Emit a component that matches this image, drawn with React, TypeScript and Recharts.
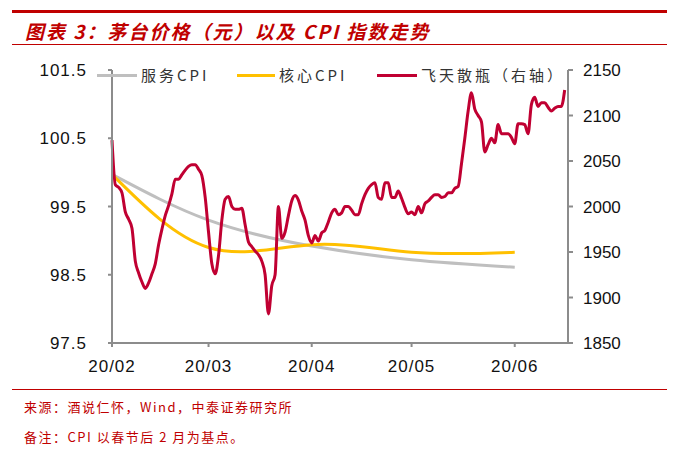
import { LineChart, Line, XAxis, YAxis } from "recharts";

// x axis: days counted from 2020-02-01
const monthTicks = [0, 29, 60, 90, 121];
const monthLabels = ["20/02", "20/03", "20/04", "20/05", "20/06"];

// CPI (left axis), monthly points
const cpiDays = [0, 29, 60, 90, 121];
const serviceCpi = [99.97, 99.3, 98.92, 98.72, 98.61];
const coreCpi = [99.97, 98.9, 98.94, 98.83, 98.83];

// 飞天散瓶 price (right axis), one value per day from 02-01
const feitianPrices = [
  2073, 2024, 2021, 2015, 1994, 1986, 1976, 1940, 1927, 1917,
  1910, 1916, 1926, 1937, 1958, 1975, 1990, 2001, 2014, 2030,
  2030, 2035, 2040, 2044, 2046, 2046, 2041, 2034, 2010, 1972,
  1937, 1926, 1946, 1985, 2008, 2011, 2000, 1997, 1997, 1998,
  1980, 1961, 1956, 1951, 1947, 1940, 1925, 1882, 1913, 1925,
  2000, 1965, 1972, 1990, 2006, 2012, 2007, 1995, 1985, 1968,
  1960, 1968, 1962, 1971, 1974, 1983, 1993, 1997, 1991, 1993,
  2000, 2000, 1996, 1991, 1991, 2003, 2013, 2020, 2024, 2026,
  2010, 2008, 2026, 2026, 2010, 2010, 2017, 2009, 1999, 1992,
  1994, 1991, 2000, 1993, 2003, 2006, 2010, 2013, 2013, 2010,
  2011, 2015, 2015, 2020, 2022, 2047, 2075, 2105, 2125, 2107,
  2100, 2093, 2060, 2068, 2075, 2070, 2090, 2080, 2080, 2080,
  2076, 2069, 2091, 2091, 2090, 2080, 2112, 2120, 2110, 2114,
  2114, 2109, 2105, 2108, 2110, 2110, 2128,
];

const leftTicks = [97.5, 98.5, 99.5, 100.5, 101.5];
const rightTicks = [1850, 1900, 1950, 2000, 2050, 2100, 2150];

const data = feitianPrices.map((price, day) => {
  const i = cpiDays.indexOf(day);
  return {
    day,
    price,
    service: i >= 0 ? serviceCpi[i] : null,
    core: i >= 0 ? coreCpi[i] : null,
  };
});

const RED = "#C00000";
const axisColor = "#8c8c8c";
const tickFont = { fontSize: 17, fill: "#111", fontFamily: "Liberation Sans, Arial, sans-serif" };

const legendItems = [
  { label: "服务CPI", color: "#BFBFBF", x: 97, w: 40 },
  { label: "核心CPI", color: "#FFC000", x: 237, w: 38 },
  { label: "飞天散瓶（右轴）", color: "#C00032", x: 377, w: 40 },
];

export default function App() {
  return (
    <div
      style={{
        position: "absolute",
        left: 0,
        top: 0,
        width: 692,
        height: 472,
        background: "#fff",
        fontFamily: "'Noto Sans CJK SC', sans-serif",
      }}
    >
      <div style={{ position: "absolute", left: 12, top: 10, width: 655, height: 3, background: RED }} />
      <div
        style={{
          position: "absolute",
          left: 25,
          top: 17,
          fontSize: 19,
          fontWeight: "bold",
          fontStyle: "italic",
          letterSpacing: 2,
          color: RED,
          whiteSpace: "nowrap",
          lineHeight: "28px",
        }}
      >
        图表 3：茅台价格（元）以及 CPI 指数走势
      </div>
      <div style={{ position: "absolute", left: 12, top: 44, width: 655, height: 1, background: RED }} />

      <div style={{ position: "absolute", left: 0, top: 0 }}>
        <LineChart width={692} height={380} data={data} margin={{ top: 70, right: 0, bottom: 0, left: 0 }}>
          <XAxis
            dataKey="day"
            type="number"
            domain={[0, 137]}
            ticks={monthTicks}
            interval={0}
            tickFormatter={(v) => monthLabels[monthTicks.indexOf(v)]}
            height={37}
            tickSize={4}
            tickMargin={13}
            stroke={axisColor}
            strokeWidth={2}
            tick={{ ...tickFont, letterSpacing: 1 }}
          />
          <YAxis
            yAxisId="left"
            domain={[97.5, 101.5]}
            ticks={leftTicks}
            interval={0}
            tickFormatter={(v) => v.toFixed(1)}
            width={112}
            tickSize={4}
            tickMargin={21}
            stroke={axisColor}
            strokeWidth={2}
            tick={{ ...tickFont, letterSpacing: 1 }}
          />
          <YAxis
            yAxisId="right"
            orientation="right"
            domain={[1850, 2150]}
            ticks={rightTicks}
            interval={0}
            width={124}
            tickSize={5}
            tickMargin={10}
            stroke={axisColor}
            strokeWidth={2}
            tick={tickFont}
          />
          <Line
            yAxisId="left"
            dataKey="service"
            type="natural"
            stroke="#BFBFBF"
            strokeWidth={3}
            dot={false}
            connectNulls
            isAnimationActive={false}
          />
          <Line
            yAxisId="left"
            dataKey="core"
            type="natural"
            stroke="#FFC000"
            strokeWidth={3}
            dot={false}
            connectNulls
            isAnimationActive={false}
          />
          <Line
            yAxisId="right"
            dataKey="price"
            type="monotone"
            stroke="#C00032"
            strokeWidth={3}
            dot={false}
            isAnimationActive={false}
          />
        </LineChart>
      </div>

      {legendItems.map((item) => (
        <div key={item.label}>
          <div
            style={{
              position: "absolute",
              left: item.x,
              top: 74,
              width: item.w,
              height: 3,
              background: item.color,
            }}
          />
          <div
            style={{
              position: "absolute",
              left: item.x + item.w + 4,
              top: 64,
              fontSize: 15,
              letterSpacing: 3,
              color: "#333",
              lineHeight: "22px",
              whiteSpace: "nowrap",
            }}
          >
            {item.label}
          </div>
        </div>
      ))}

      <div style={{ position: "absolute", left: 12, top: 389, width: 655, height: 1, background: RED }} />
      <div
        style={{
          position: "absolute",
          left: 24,
          top: 398,
          fontSize: 13,
          letterSpacing: 1.5,
          color: RED,
          lineHeight: "18px",
          whiteSpace: "nowrap",
        }}
      >
        来源：酒说仁怀，Wind，中泰证券研究所
      </div>
      <div
        style={{
          position: "absolute",
          left: 24,
          top: 428,
          fontSize: 13,
          letterSpacing: 1.5,
          color: RED,
          lineHeight: "18px",
          whiteSpace: "nowrap",
        }}
      >
        备注：CPI 以春节后 2 月为基点。
      </div>
    </div>
  );
}
